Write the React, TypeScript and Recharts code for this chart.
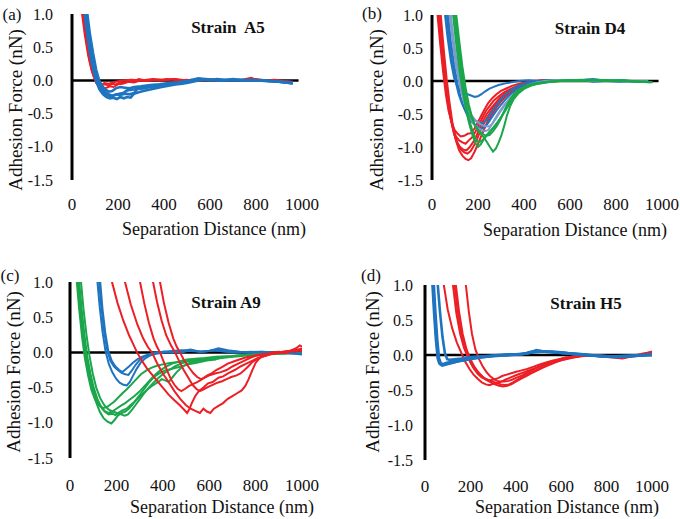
import React from 'react';
import { LineChart, Line, XAxis, YAxis, ReferenceLine } from 'recharts';

type Pt = [number, number];

const xTicks = [0, 200, 400, 600, 800, 1000];
const yTicks = [-1.5, -1.0, -0.5, 0, 0.5, 1.0];
const xTitle = 'Separation Distance (nm)';
const yTitle = 'Adhesion Force (nN)';

const RED = '#ec1f26';
const BLUE = '#1f74c0';
const LBLUE = '#7d9ccb';
const GREEN = '#1ca64c';
const SERIF = '"Liberation Serif", "Times New Roman", serif';

// ---------- Panel (a) Strain A5 ----------
const aRed1: Pt[] = [[28,1.5],[40,1.1],[55,0.7],[70,0.38],[85,0.15],[100,0.02],[115,-0.05],[130,-0.07],[145,-0.06],[160,-0.08],[175,-0.05],[190,-0.06],[210,-0.03],[230,-0.04],[250,0.01],[270,-0.01],[290,0.02],[320,0],[350,0.01],[380,0],[410,0.02],[440,0.01],[470,0],[500,0.01],[540,-0.01],[580,0.01],[620,0],[660,0.01],[700,0],[740,0.01],[780,0.04],[800,0.01],[840,0],[880,0.01],[920,-0.01],[960,-0.02]];
const aRed2: Pt[] = [[32,1.5],[45,1.05],[60,0.65],[75,0.32],[90,0.1],[105,-0.04],[120,-0.1],[135,-0.12],[150,-0.11],[165,-0.09],[180,-0.1],[200,-0.06],[220,-0.05],[245,-0.02],[270,-0.03],[300,0],[330,-0.01],[360,0.01],[400,0],[440,0.02],[480,0],[520,0.01],[560,0],[600,0.01],[650,0],[700,0.01],[750,0],[800,0.02],[850,0],[900,-0.01],[950,-0.02]];
const aRed3: Pt[] = [[38,1.5],[52,1.0],[68,0.55],[82,0.25],[96,0.05],[110,-0.05],[125,-0.08],[140,-0.04],[160,-0.05],[190,-0.02],[220,0],[260,0.01],[300,0],[350,0.02],[400,0.01],[450,0.02],[500,0]];
const aBlue1: Pt[] = [[40,1.5],[52,1.1],[65,0.72],[78,0.42],[92,0.17],[106,-0.02],[120,-0.14],[135,-0.21],[150,-0.25],[165,-0.27],[180,-0.26],[195,-0.28],[210,-0.25],[225,-0.27],[240,-0.25],[255,-0.26],[270,-0.2],[290,-0.18],[310,-0.16],[335,-0.14],[360,-0.12],[390,-0.1],[420,-0.08],[450,-0.06],[480,-0.05],[510,-0.03],[540,-0.01],[570,0.01],[600,0],[630,0.02],[660,0.01],[700,0],[740,0.01],[780,0],[820,0],[860,-0.01],[900,-0.02],[930,-0.03],[960,-0.05]];
const aBlue2: Pt[] = [[45,1.5],[58,1.08],[72,0.7],[86,0.4],[100,0.15],[114,0],[128,-0.1],[142,-0.17],[158,-0.21],[175,-0.23],[192,-0.21],[210,-0.22],[230,-0.2],[250,-0.21],[270,-0.19],[285,-0.12],[300,-0.11],[330,-0.1],[360,-0.08],[400,-0.07],[440,-0.05],[480,-0.03],[520,-0.01],[560,0.02],[600,0.01],[650,0],[700,0.01],[750,0],[800,0],[850,-0.01],[900,-0.02],[960,-0.04]];
const aBlue3: Pt[] = [[50,1.5],[63,1.1],[77,0.72],[91,0.42],[105,0.16],[118,0],[132,-0.09],[146,-0.14],[160,-0.17],[175,-0.16],[190,-0.12],[210,-0.1],[230,-0.11],[250,-0.12],[270,-0.1],[300,-0.09],[340,-0.07],[380,-0.06],[420,-0.04],[460,-0.03],[500,-0.01],[550,0.03],[600,0.01],[650,0],[700,0.01],[750,0],[800,0],[850,-0.01],[900,-0.02],[960,-0.03]];
const aBlue4: Pt[] = [[42,1.5],[55,1.05],[69,0.65],[83,0.35],[97,0.12],[111,-0.03],[125,-0.13],[140,-0.19],[155,-0.22],[170,-0.24],[188,-0.22],[205,-0.2],[222,-0.19],[240,-0.15],[260,-0.14],[280,-0.13],[310,-0.12],[340,-0.1],[380,-0.08],[420,-0.06],[460,-0.04],[500,-0.02],[540,0],[580,0.02],[620,0.01],[660,0],[700,0.02],[740,0],[780,0.01],[820,0],[860,-0.01],[900,-0.02],[950,-0.04]];

// ---------- Panel (b) Strain D4 ----------
const bRed1: Pt[] = [[12,1.5],[24,1.0],[36,0.55],[48,0.15],[60,-0.2],[72,-0.45],[85,-0.62],[98,-0.74],[112,-0.8],[125,-0.84],[140,-0.83],[155,-0.8],[170,-0.79],[185,-0.72],[200,-0.62],[215,-0.52],[230,-0.42],[245,-0.33],[262,-0.26],[280,-0.2],[300,-0.15],[325,-0.11],[350,-0.07],[380,-0.04],[410,-0.02],[440,0],[480,0.01],[520,0]];
const bRed2: Pt[] = [[15,1.5],[27,1.0],[40,0.52],[52,0.12],[64,-0.22],[77,-0.5],[90,-0.7],[104,-0.84],[118,-0.9],[132,-0.93],[146,-0.95],[160,-0.9],[175,-0.85],[190,-0.76],[205,-0.66],[220,-0.55],[235,-0.45],[250,-0.38],[268,-0.3],[288,-0.24],[310,-0.18],[335,-0.13],[360,-0.09],[390,-0.05],[420,-0.03],[450,-0.01],[490,0.01],[530,0]];
const bRed3: Pt[] = [[18,1.5],[30,1.0],[43,0.5],[56,0.08],[68,-0.28],[81,-0.57],[94,-0.78],[108,-0.92],[122,-1.0],[136,-1.04],[150,-1.05],[164,-1.0],[178,-0.93],[192,-0.84],[207,-0.72],[222,-0.6],[238,-0.5],[255,-0.42],[272,-0.35],[292,-0.27],[315,-0.2],[340,-0.14],[370,-0.09],[400,-0.05],[430,-0.02],[470,0],[510,0.01]];
const bRed4: Pt[] = [[22,1.5],[34,1.0],[47,0.5],[60,0.05],[72,-0.3],[85,-0.6],[98,-0.82],[112,-0.96],[126,-1.04],[140,-1.08],[154,-1.1],[168,-1.06],[182,-0.98],[196,-0.88],[210,-0.76],[225,-0.65],[240,-0.55],[258,-0.45],[276,-0.36],[296,-0.28],[320,-0.2],[345,-0.14],[375,-0.08],[405,-0.04],[440,-0.01],[480,0.01]];
const bRed5: Pt[] = [[25,1.5],[38,1.0],[51,0.48],[64,0.02],[77,-0.35],[90,-0.66],[104,-0.9],[118,-1.05],[132,-1.13],[146,-1.18],[158,-1.2],[170,-1.17],[184,-1.08],[198,-0.97],[212,-0.85],[228,-0.72],[244,-0.6],[262,-0.5],[280,-0.4],[300,-0.31],[322,-0.23],[348,-0.16],[378,-0.1],[410,-0.05],[445,-0.02],[490,0]];
const bBlue1: Pt[] = [[42,1.5],[55,1.05],[68,0.65],[82,0.3],[96,0.05],[110,-0.08],[125,-0.15],[140,-0.18],[155,-0.2],[170,-0.22],[185,-0.24],[200,-0.23],[215,-0.2],[230,-0.16],[248,-0.12],[268,-0.09],[290,-0.06],[315,-0.04],[345,-0.02],[380,0],[420,0.01],[460,0],[500,0.01],[550,0],[600,0.01],[650,0.02],[700,-0.01],[750,0],[800,0.01],[850,0],[900,-0.01],[940,0]];
const bBlue2: Pt[] = [[50,1.5],[62,1.05],[75,0.62],[88,0.28],[102,0],[116,-0.2],[130,-0.34],[145,-0.44],[160,-0.51],[175,-0.56],[190,-0.6],[205,-0.63],[220,-0.64],[235,-0.6],[250,-0.52],[265,-0.44],[282,-0.36],[300,-0.28],[320,-0.2],[345,-0.13],[370,-0.08],[400,-0.04],[440,-0.01],[480,0],[530,0.01],[580,0],[640,0.01],[700,0.03],[760,0],[820,-0.01],[880,0],[940,-0.01]];
const bBlue3: Pt[] = [[56,1.5],[68,1.05],[82,0.6],[96,0.25],[110,-0.03],[124,-0.24],[138,-0.4],[153,-0.52],[168,-0.6],[184,-0.66],[200,-0.7],[216,-0.72],[230,-0.7],[245,-0.63],[262,-0.54],[280,-0.45],[300,-0.36],[322,-0.27],[345,-0.19],[370,-0.12],[400,-0.07],[435,-0.03],[470,0],[520,0.01],[580,0],[640,0.01],[700,0],[760,0.01],[820,0],[880,-0.01],[940,0]];
const bLBlue1: Pt[] = [[62,1.5],[75,1.05],[90,0.6],[105,0.22],[120,-0.05],[135,-0.27],[150,-0.43],[166,-0.56],[182,-0.65],[198,-0.71],[214,-0.74],[230,-0.76],[245,-0.74],[260,-0.66],[276,-0.56],[294,-0.46],[314,-0.36],[336,-0.27],[360,-0.19],[386,-0.12],[415,-0.07],[450,-0.03],[490,0],[540,0.01],[600,0],[660,0.01],[720,0],[780,0.01],[840,0],[900,-0.01],[940,0]];
const bLBlue2: Pt[] = [[68,1.5],[80,1.05],[95,0.6],[110,0.22],[125,-0.06],[140,-0.26],[156,-0.41],[172,-0.52],[190,-0.6],[208,-0.65],[226,-0.68],[244,-0.69],[260,-0.66],[276,-0.58],[294,-0.48],[314,-0.38],[336,-0.28],[360,-0.19],[388,-0.12],[420,-0.06],[460,-0.02],[500,0],[560,0.01],[620,0],[680,0.01],[740,0],[800,0],[860,-0.01],[920,0]];
const bGreen1: Pt[] = [[78,1.5],[90,1.05],[104,0.6],[118,0.2],[132,-0.12],[146,-0.4],[160,-0.62],[174,-0.8],[188,-0.94],[200,-1.0],[212,-0.96],[226,-0.88],[242,-0.8],[258,-0.74],[275,-0.68],[292,-0.6],[308,-0.5],[322,-0.4],[338,-0.3],[356,-0.2],[378,-0.13],[405,-0.08],[440,-0.04],[480,-0.02],[520,-0.01],[560,0],[600,0.01],[650,0],[700,0.02],[750,0.01],[800,0],[850,0],[900,-0.01],[950,-0.02]];
const bGreen2: Pt[] = [[92,1.5],[104,1.05],[118,0.62],[132,0.22],[146,-0.1],[160,-0.36],[175,-0.56],[190,-0.7],[206,-0.78],[222,-0.84],[238,-0.92],[252,-1.0],[265,-1.07],[278,-1.02],[290,-0.93],[302,-0.82],[314,-0.68],[326,-0.52],[340,-0.38],[356,-0.27],[375,-0.19],[400,-0.12],[430,-0.07],[465,-0.04],[505,-0.02],[550,0],[600,0.01],[660,0],[720,0.02],[780,0],[840,0.01],[900,-0.01],[950,-0.02]];
const bGreen3: Pt[] = [[84,1.5],[96,1.05],[110,0.6],[124,0.2],[138,-0.13],[152,-0.42],[166,-0.64],[180,-0.8],[192,-0.9],[204,-0.93],[218,-0.9],[234,-0.84],[250,-0.78],[268,-0.7],[286,-0.62],[304,-0.53],[322,-0.43],[340,-0.33],[360,-0.23],[382,-0.15],[410,-0.09],[445,-0.05],[485,-0.02],[530,0],[580,0.01],[640,0],[700,0.01],[760,0],[820,0.01],[880,-0.01],[940,-0.01]];
const bGreen4: Pt[] = [[88,1.5],[100,1.05],[114,0.6],[128,0.22],[142,-0.1],[157,-0.36],[172,-0.55],[188,-0.68],[204,-0.76],[220,-0.8],[236,-0.83],[250,-0.82],[266,-0.76],[282,-0.68],[298,-0.58],[314,-0.46],[330,-0.34],[348,-0.24],[370,-0.16],[396,-0.1],[430,-0.06],[470,-0.03],[510,-0.01],[560,0],[620,0.01],[680,0.02],[740,0],[800,0.01],[860,0],[920,-0.01],[960,-0.02]];

// ---------- Panel (c) Strain A9 ----------
const cGreen1: Pt[] = [[22,1.5],[32,1.05],[44,0.62],[56,0.25],[68,-0.05],[82,-0.3],[96,-0.52],[112,-0.7],[128,-0.84],[144,-0.93],[160,-0.98],[178,-1.01],[192,-0.96],[206,-0.9],[222,-0.86],[238,-0.84],[254,-0.8],[270,-0.74],[288,-0.66],[306,-0.58],[324,-0.5],[342,-0.42],[362,-0.35],[384,-0.3],[408,-0.26],[432,-0.24],[456,-0.22],[480,-0.2],[510,-0.17],[540,-0.15],[570,-0.13],[600,-0.11],[630,-0.1]];
const cGreen2: Pt[] = [[28,1.5],[38,1.05],[50,0.62],[62,0.25],[74,-0.05],[88,-0.3],[102,-0.5],[118,-0.66],[134,-0.77],[150,-0.84],[166,-0.88],[182,-0.87],[196,-0.89],[212,-0.85],[228,-0.82],[244,-0.8],[260,-0.75],[278,-0.7],[296,-0.64],[316,-0.58],[336,-0.52],[356,-0.47],[376,-0.43],[396,-0.38],[412,-0.4],[426,-0.42],[440,-0.36],[460,-0.28],[485,-0.2],[515,-0.15],[550,-0.12],[590,-0.1],[630,-0.08],[680,-0.06],[730,-0.04],[780,-0.03],[830,-0.02],[880,-0.02],[930,-0.01],[980,0]];
const cGreen3: Pt[] = [[18,1.5],[28,1.05],[40,0.6],[52,0.22],[64,-0.08],[78,-0.33],[92,-0.53],[108,-0.67],[124,-0.75],[142,-0.79],[158,-0.78],[174,-0.74],[190,-0.7],[208,-0.64],[226,-0.58],[246,-0.52],[266,-0.45],[286,-0.38],[306,-0.31],[328,-0.26],[350,-0.22],[374,-0.19],[400,-0.17],[430,-0.15],[460,-0.14],[490,-0.13],[520,-0.12],[555,-0.11],[590,-0.1],[630,-0.09],[680,-0.07],[740,-0.05],[800,-0.03],[860,-0.02],[920,-0.02],[980,-0.01]];
const cGreen4: Pt[] = [[35,1.5],[46,1.05],[58,0.62],[71,0.25],[84,-0.05],[98,-0.3],[113,-0.5],[130,-0.65],[148,-0.75],[166,-0.81],[184,-0.84],[202,-0.86],[220,-0.88],[236,-0.9],[250,-0.88],[266,-0.82],[284,-0.74],[302,-0.66],[320,-0.58],[340,-0.5],[360,-0.43],[382,-0.36],[404,-0.3],[428,-0.25],[452,-0.2],[478,-0.16],[505,-0.13],[535,-0.11],[570,-0.1],[610,-0.09],[640,-0.09]];
const cGreen5: Pt[] = [[25,1.5],[35,1.05],[47,0.62],[59,0.25],[71,-0.05],[85,-0.32],[100,-0.52],[116,-0.67],[132,-0.77],[148,-0.83],[165,-0.86],[182,-0.84],[200,-0.8],[218,-0.76],[238,-0.72],[258,-0.67],[278,-0.62],[298,-0.56],[318,-0.49],[338,-0.42],[360,-0.34],[384,-0.27],[410,-0.21],[440,-0.16],[470,-0.13],[505,-0.1],[540,-0.09],[580,-0.08],[630,-0.06],[700,-0.05],[780,-0.03],[860,-0.02],[940,-0.01],[1000,-0.01]];
const cBlue1: Pt[] = [[108,1.5],[117,1.05],[128,0.65],[140,0.3],[153,0.02],[167,-0.16],[182,-0.28],[198,-0.37],[214,-0.43],[230,-0.46],[245,-0.47],[258,-0.42],[272,-0.33],[288,-0.23],[306,-0.14],[326,-0.08],[348,-0.04],[372,-0.02],[400,0],[440,0.01],[480,0],[520,0.03],[560,0.01],[600,0.02],[640,0.04],[680,0.02],[720,0.01],[770,0],[820,0.01],[870,0],[920,-0.01],[1000,-0.02]];
const cBlue2: Pt[] = [[115,1.5],[124,1.05],[135,0.65],[147,0.3],[160,0.04],[174,-0.12],[190,-0.2],[206,-0.25],[222,-0.29],[238,-0.31],[252,-0.32],[266,-0.26],[282,-0.18],[300,-0.11],[320,-0.06],[345,-0.03],[372,0],[405,0.01],[440,0],[480,0.02],[520,0.04],[560,0.01],[600,0.02],[640,0.06],[680,0.03],[730,0.01],[780,0],[830,0.01],[880,0],[940,-0.01],[1000,-0.03]];
const cBlue3: Pt[] = [[120,1.5],[129,1.05],[140,0.62],[152,0.28],[165,0.02],[180,-0.12],[196,-0.2],[212,-0.25],[226,-0.28],[240,-0.24],[254,-0.2],[270,-0.15],[290,-0.1],[312,-0.06],[338,-0.03],[365,-0.01],[400,0.01],[440,0.02],[480,0.03],[520,0.02],[570,0.01],[620,0.03],[670,0.01],[720,0],[780,0.01],[840,0],[900,-0.01],[960,-0.01],[1000,-0.02]];
const cRed1: Pt[] = [[170,1.5],[181,1.0],[205,0.7],[230,0.45],[255,0.24],[275,0.1],[289,0],[310,-0.12],[330,-0.22],[350,-0.3],[375,-0.4],[400,-0.5],[425,-0.6],[450,-0.68],[470,-0.74],[488,-0.8],[505,-0.86],[515,-0.8],[525,-0.72],[540,-0.62],[555,-0.55],[575,-0.5],[595,-0.44],[615,-0.42],[640,-0.36],[660,-0.34],[685,-0.29],[710,-0.25],[735,-0.2],[760,-0.16],[785,-0.12],[810,-0.08],[840,-0.05],[870,-0.02],[900,0],[940,0.02],[970,0.01],[1000,0.06]];
const cRed2: Pt[] = [[222,1.5],[237,1.0],[262,0.68],[290,0.4],[315,0.2],[335,0.08],[353,0],[375,-0.15],[400,-0.3],[425,-0.42],[450,-0.55],[475,-0.66],[500,-0.75],[520,-0.8],[540,-0.83],[560,-0.86],[575,-0.8],[590,-0.84],[605,-0.86],[620,-0.8],[640,-0.76],[660,-0.72],[680,-0.66],[700,-0.62],[720,-0.58],[740,-0.54],[755,-0.48],[770,-0.38],[785,-0.26],[800,-0.15],[820,-0.07],[845,-0.03],[870,0],[900,0.01],[930,-0.01],[960,0.03],[1000,0.02]];
const cRed3: Pt[] = [[290,1.5],[302,1.0],[320,0.7],[340,0.42],[360,0.2],[375,0.08],[388,0],[405,-0.14],[420,-0.27],[435,-0.38],[450,-0.46],[465,-0.52],[480,-0.55],[495,-0.52],[512,-0.48],[530,-0.45],[550,-0.42],[570,-0.38],[590,-0.33],[610,-0.3],[630,-0.25],[655,-0.21],[680,-0.16],[705,-0.13],[730,-0.1],[760,-0.07],[790,-0.05],[820,-0.03],[860,-0.02],[900,0],[940,0.01],[980,0.04],[1000,0.05]];
const cRed4: Pt[] = [[345,1.5],[358,1.0],[375,0.72],[395,0.45],[415,0.24],[435,0.1],[453,0],[470,-0.12],[490,-0.25],[510,-0.36],[528,-0.46],[545,-0.52],[560,-0.55],[578,-0.52],[596,-0.49],[615,-0.46],[635,-0.43],[655,-0.41],[675,-0.38],[695,-0.35],[715,-0.33],[735,-0.3],[752,-0.25],[768,-0.2],[785,-0.14],[805,-0.1],[830,-0.06],[860,-0.03],[900,-0.01],[940,0.01],[975,0.06],[990,0.1],[1000,0.08]];
const cRed5: Pt[] = [[376,1.5],[388,1.0],[405,0.7],[425,0.42],[445,0.2],[460,0.08],[474,0],[490,-0.1],[510,-0.2],[530,-0.29],[548,-0.35],[565,-0.38],[585,-0.35],[605,-0.32],[625,-0.3],[650,-0.28],[675,-0.25],[700,-0.2],[725,-0.16],[750,-0.12],[775,-0.08],[800,-0.05],[830,-0.03],[860,-0.02],[900,0],[940,0.02],[980,0.03],[1000,0.04]];

// ---------- Panel (d) Strain H5 ----------
const dRed1: Pt[] = [[68,1.5],[83,1.0],[100,0.65],[120,0.38],[140,0.18],[160,0.03],[178,-0.1],[196,-0.2],[214,-0.28],[232,-0.34],[250,-0.39],[268,-0.42],[284,-0.43],[300,-0.41],[318,-0.4],[336,-0.38],[356,-0.35],[378,-0.32],[400,-0.29],[425,-0.26],[450,-0.23],[475,-0.2],[500,-0.17],[530,-0.14],[560,-0.11],[590,-0.08],[620,-0.06],[650,-0.04],[680,-0.02],[710,-0.01],[750,-0.01],[800,-0.03],[840,-0.04],[870,-0.05],[900,-0.03],[940,-0.01],[980,0.02],[1000,0.03]];
const dRed2: Pt[] = [[110,1.5],[123,1.0],[138,0.6],[155,0.3],[172,0.1],[190,-0.04],[208,-0.15],[226,-0.23],[244,-0.29],[262,-0.33],[280,-0.36],[298,-0.38],[316,-0.4],[334,-0.42],[352,-0.43],[370,-0.42],[388,-0.39],[408,-0.35],[430,-0.31],[455,-0.27],[480,-0.23],[505,-0.19],[530,-0.15],[560,-0.11],[590,-0.08],[620,-0.05],[650,-0.03],[690,-0.01],[740,0],[790,-0.02],[840,-0.03],[880,-0.02],[920,-0.01],[960,0.02],[1000,0.04]];
const dRed3: Pt[] = [[124,1.5],[136,1.0],[150,0.62],[166,0.3],[183,0.08],[200,-0.06],[218,-0.17],[236,-0.25],[254,-0.31],[272,-0.36],[290,-0.39],[308,-0.42],[326,-0.44],[344,-0.45],[362,-0.44],[380,-0.42],[400,-0.38],[422,-0.34],[446,-0.3],[470,-0.26],[495,-0.22],[520,-0.18],[548,-0.14],[578,-0.1],[608,-0.07],[640,-0.04],[675,-0.02],[720,0],[770,-0.01],[820,-0.02],[860,-0.04],[900,-0.02],[950,0],[1000,0.05]];
const dRed4: Pt[] = [[168,1.5],[180,1.0],[193,0.62],[207,0.3],[222,0.08],[238,-0.06],[254,-0.16],[270,-0.24],[286,-0.3],[302,-0.34],[318,-0.37],[334,-0.38],[350,-0.38],[368,-0.37],[386,-0.35],[406,-0.32],[428,-0.29],[452,-0.25],[476,-0.21],[500,-0.17],[526,-0.13],[554,-0.1],[584,-0.07],[615,-0.04],[650,-0.02],[690,-0.01],[740,0],[800,-0.02],[850,-0.03],[900,-0.02],[950,0],[1000,0.02]];
const dRed5: Pt[] = [[116,1.5],[130,1.0],[145,0.6],[162,0.28],[179,0.06],[196,-0.08],[214,-0.19],[232,-0.27],[250,-0.32],[268,-0.35],[286,-0.36],[304,-0.35],[322,-0.33],[340,-0.3],[360,-0.28],[380,-0.26],[402,-0.24],[426,-0.22],[450,-0.2],[476,-0.17],[502,-0.14],[530,-0.11],[560,-0.08],[590,-0.06],[620,-0.04],[655,-0.02],[700,-0.01],[760,0],[820,-0.02],[880,-0.02],[940,0],[1000,0.03]];
const dBlue1: Pt[] = [[24,1.5],[32,1.05],[40,0.6],[48,0.22],[56,-0.05],[63,-0.12],[72,-0.14],[85,-0.13],[100,-0.12],[120,-0.11],[145,-0.09],[170,-0.07],[200,-0.05],[235,-0.03],[270,-0.02],[310,-0.01],[350,0],[400,0.01],[440,0.02],[470,0.05],[500,0.06],[530,0.05],[570,0.04],[610,0.03],[650,0.02],[700,0],[750,-0.01],[800,-0.02],[850,-0.02],[900,-0.01],[950,0],[1000,0.01]];
const dBlue2: Pt[] = [[30,1.5],[38,1.05],[46,0.6],[54,0.22],[62,-0.05],[70,-0.12],[80,-0.13],[95,-0.11],[115,-0.1],[140,-0.08],[170,-0.06],[205,-0.04],[240,-0.03],[280,-0.02],[320,0],[370,0.01],[420,0.01],[460,0.03],[490,0.07],[520,0.05],[560,0.05],[600,0.04],[640,0.02],[690,0.01],[740,-0.01],[790,-0.02],[840,-0.03],[890,-0.02],[940,-0.01],[1000,0]];
const dBlue3: Pt[] = [[44,1.5],[55,1.05],[66,0.62],[77,0.26],[88,0.02],[98,-0.06],[110,-0.07],[130,-0.06],[160,-0.05],[200,-0.03],[250,-0.02],[300,-0.01],[360,0],[420,0.01],[480,0.04],[540,0.05],[600,0.03],[660,0.01],[720,0],[780,-0.02],[840,-0.02],[900,-0.01],[1000,0]];
const dBlue4: Pt[] = [[27,1.5],[35,1.05],[43,0.6],[51,0.2],[59,-0.06],[67,-0.13],[76,-0.15],[90,-0.14],[110,-0.12],[135,-0.1],[165,-0.08],[200,-0.06],[240,-0.04],[285,-0.02],[330,-0.01],[380,0],[430,0.01],[475,0.04],[510,0.05],[550,0.04],[600,0.03],[650,0.02],[700,0.01],[760,-0.01],[820,-0.02],[880,-0.02],[940,-0.01],[1000,0.01]];

type Series = { name: string; pts: Pt[]; color: string; width?: number };

type PanelCfg = {
  tag: string;
  strain: string;
  series: Series[];
  zeroEnd: number;
  left: number; top: number; w: number; h: number;
  margin: { top: number; right: number; bottom: number; left: number };
  yWidth: number;
  yTickGap: number;
  xTickGap: number;
  tagPos: [number, number];
  strainPos: [number, number];
  yTitlePos: [number, number];
  xTitlePos: [number, number];
};

const toObjs = (pts: Pt[]) => pts.map(([x, y]) => ({ x, y }));
const fmt = (v: number) => v.toFixed(1);

const panels: PanelCfg[] = [
  {
    tag: '(a)', strain: 'Strain  A5', zeroEnd: 985,
    series: [
      { name: 'r1', pts: aRed1, color: RED }, { name: 'r2', pts: aRed2, color: RED }, { name: 'r3', pts: aRed3, color: RED },
      { name: 'b1', pts: aBlue1, color: BLUE, width: 2.6 }, { name: 'b2', pts: aBlue2, color: BLUE, width: 2.6 },
      { name: 'b3', pts: aBlue3, color: BLUE, width: 2.6 }, { name: 'b4', pts: aBlue4, color: BLUE, width: 2.6 },
    ],
    left: 0, top: 0, w: 340, h: 250, margin: { top: 14, right: 38, bottom: 40, left: 0 }, yWidth: 72, yTickGap: 19, xTickGap: 18,
    tagPos: [12, 14], strainPos: [228, 27], yTitlePos: [15, 110], xTitlePos: [214, 229],
  },
  {
    tag: '(b)', strain: 'Strain D4', zeroEnd: 985,
    series: [
      { name: 'r1', pts: bRed1, color: RED }, { name: 'r2', pts: bRed2, color: RED }, { name: 'r3', pts: bRed3, color: RED },
      { name: 'r4', pts: bRed4, color: RED }, { name: 'r5', pts: bRed5, color: RED },
      { name: 'b1', pts: bBlue1, color: BLUE }, { name: 'b2', pts: bBlue2, color: BLUE }, { name: 'b3', pts: bBlue3, color: BLUE },
      { name: 'l1', pts: bLBlue1, color: LBLUE }, { name: 'l2', pts: bLBlue2, color: LBLUE },
      { name: 'g1', pts: bGreen1, color: GREEN }, { name: 'g2', pts: bGreen2, color: GREEN },
      { name: 'g3', pts: bGreen3, color: GREEN }, { name: 'g4', pts: bGreen4, color: GREEN },
    ],
    left: 360, top: 0, w: 320, h: 250, margin: { top: 15, right: 18, bottom: 40, left: 0 }, yWidth: 72, yTickGap: 9, xTickGap: 18,
    tagPos: [372, 13], strainPos: [590, 28], yTitlePos: [376, 110], xTitlePos: [575, 230],
  },
  {
    tag: '(c)', strain: 'Strain A9', zeroEnd: 1000,
    series: [
      { name: 'g1', pts: cGreen1, color: GREEN }, { name: 'g2', pts: cGreen2, color: GREEN }, { name: 'g3', pts: cGreen3, color: GREEN },
      { name: 'g4', pts: cGreen4, color: GREEN }, { name: 'g5', pts: cGreen5, color: GREEN },
      { name: 'b1', pts: cBlue1, color: BLUE }, { name: 'b2', pts: cBlue2, color: BLUE }, { name: 'b3', pts: cBlue3, color: BLUE },
      { name: 'r1', pts: cRed1, color: RED }, { name: 'r2', pts: cRed2, color: RED }, { name: 'r3', pts: cRed3, color: RED },
      { name: 'r4', pts: cRed4, color: RED }, { name: 'r5', pts: cRed5, color: RED },
    ],
    left: 0, top: 260, w: 340, h: 250, margin: { top: 22, right: 38, bottom: 22, left: 0 }, yWidth: 70, yTickGap: 17, xTickGap: 21,
    tagPos: [10, 275], strainPos: [226, 302], yTitlePos: [13, 372], xTitlePos: [222, 507],
  },
  {
    tag: '(d)', strain: 'Strain H5', zeroEnd: 1000,
    series: [
      { name: 'r1', pts: dRed1, color: RED }, { name: 'r2', pts: dRed2, color: RED }, { name: 'r3', pts: dRed3, color: RED },
      { name: 'r4', pts: dRed4, color: RED }, { name: 'r5', pts: dRed5, color: RED },
      { name: 'b1', pts: dBlue1, color: BLUE, width: 2.6 }, { name: 'b2', pts: dBlue2, color: BLUE, width: 2.6 },
      { name: 'b3', pts: dBlue3, color: BLUE, width: 2.6 }, { name: 'b4', pts: dBlue4, color: BLUE, width: 2.6 },
    ],
    left: 360, top: 260, w: 320, h: 250, margin: { top: 25, right: 28, bottom: 20, left: 0 }, yWidth: 65, yTickGap: 12, xTickGap: 20,
    tagPos: [371, 275], strainPos: [586, 303], yTitlePos: [372, 372], xTitlePos: [567, 507],
  },
];

const baseText: React.CSSProperties = {
  position: 'absolute',
  fontFamily: SERIF,
  color: '#111',
  whiteSpace: 'nowrap',
  lineHeight: 1,
};

function Panel({ p }: { p: PanelCfg }) {
  return (
    <div style={{ position: 'absolute', left: p.left, top: p.top, width: p.w, height: p.h }}>
      <LineChart width={p.w} height={p.h} margin={p.margin}>
        <XAxis
          type="number"
          dataKey="x"
          domain={[0, 1000]}
          ticks={xTicks}
          interval={0}
          allowDataOverflow
          axisLine={false}
          tickLine={false}
          tickSize={0}
          tickMargin={p.xTickGap}
          height={30}
          tick={{ fontFamily: SERIF, fontSize: 17, fill: '#111' }}
        />
        <YAxis
          type="number"
          dataKey="y"
          domain={[-1.5, 1]}
          ticks={yTicks}
          interval={0}
          allowDataOverflow
          width={p.yWidth}
          tickFormatter={fmt}
          axisLine={{ stroke: '#000', strokeWidth: 3 }}
          tickLine={false}
          tickSize={0}
          tickMargin={p.yTickGap}
          tick={{ fontFamily: SERIF, fontSize: 16, fill: '#111' }}
        />
        <ReferenceLine
          segment={[{ x: 0, y: 0 }, { x: p.zeroEnd, y: 0 }]}
          stroke="#000"
          strokeWidth={2.5}
        />
        {p.series.map((s) => (
          <Line
            key={s.name}
            name={s.name}
            data={toObjs(s.pts)}
            dataKey="y"
            type="linear"
            stroke={s.color}
            strokeWidth={s.width ?? 2}
            dot={false}
            activeDot={false}
            isAnimationActive={false}
          />
        ))}
      </LineChart>
    </div>
  );
}

export default function App() {
  return (
    <div style={{ position: 'absolute', left: 0, top: 0, width: 680, height: 519, background: '#fff', overflow: 'hidden' }}>
      {panels.map((p) => (
        <Panel key={p.tag} p={p} />
      ))}
      {panels.map((p) => (
        <React.Fragment key={'t' + p.tag}>
          <div style={{ ...baseText, left: p.tagPos[0], top: p.tagPos[1], transform: 'translate(-50%,-50%)', fontSize: 17 }}>{p.tag}</div>
          <div style={{ ...baseText, left: p.strainPos[0], top: p.strainPos[1], transform: 'translate(-50%,-50%)', fontSize: 17, fontWeight: 'bold', whiteSpace: 'pre' }}>{p.strain}</div>
          <div style={{ ...baseText, left: p.yTitlePos[0], top: p.yTitlePos[1], transform: 'translate(-50%,-50%) rotate(-90deg)', fontSize: 19 }}>{yTitle}</div>
          <div style={{ ...baseText, left: p.xTitlePos[0], top: p.xTitlePos[1], transform: 'translate(-50%,-50%)', fontSize: 18 }}>{xTitle}</div>
        </React.Fragment>
      ))}
    </div>
  );
}
